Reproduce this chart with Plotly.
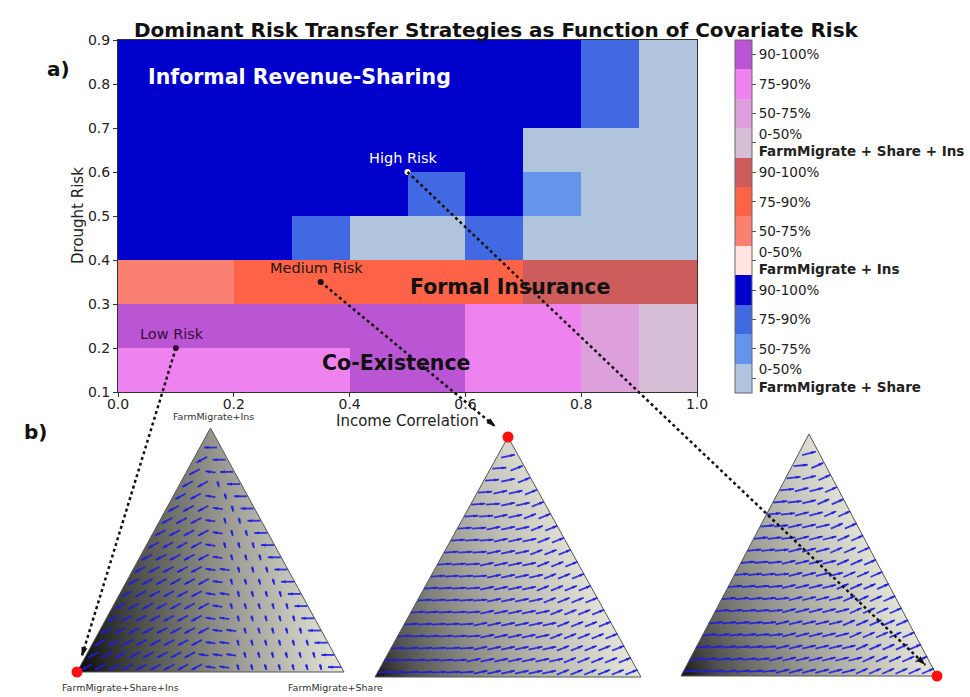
import math
import plotly.graph_objects as go

FIG_W, FIG_H = 970, 697
FONT = "DejaVu Sans"

# ---------------- panel a: dominant strategy per (correlation, drought) cell ----------------
income_correlation = [0.05, 0.15, 0.25, 0.35, 0.45, 0.55, 0.65, 0.75, 0.85, 0.95]
drought_risk = [0.15, 0.25, 0.35, 0.45, 0.55, 0.65, 0.75, 0.85]

# codes 0-3: FarmMigrate+Share, 4-7: FarmMigrate+Ins, 8-11: FarmMigrate+Share+Ins
# (within each group: 0-50%, 50-75%, 75-90%, 90-100% of runs)
dominant_code = [
    [10, 10, 10, 10, 11, 11, 10, 10, 9, 8],   # drought 0.1-0.2
    [11, 11, 11, 11, 11, 11, 10, 10, 9, 8],   # 0.2-0.3
    [5, 5, 6, 6, 6, 6, 6, 7, 7, 7],           # 0.3-0.4
    [3, 3, 3, 2, 0, 0, 2, 0, 0, 0],           # 0.4-0.5
    [3, 3, 3, 3, 3, 2, 3, 1, 0, 0],           # 0.5-0.6
    [3, 3, 3, 3, 3, 3, 3, 0, 0, 0],           # 0.6-0.7
    [3, 3, 3, 3, 3, 3, 3, 3, 2, 0],           # 0.7-0.8
    [3, 3, 3, 3, 3, 3, 3, 3, 2, 0],           # 0.8-0.9
]
category_colors = ["#b0c4de", "#6495ed", "#4169e1", "#0000cd",
                   "#ffe4e1", "#fa8072", "#ff6347", "#cd5c5c",
                   "#d8bfd8", "#dda0dd", "#ee82ee", "#ba55d3"]
share_bins = ["0-50%", "50-75%", "75-90%", "90-100%"]
strategy_groups = ["FarmMigrate + Share", "FarmMigrate + Ins", "FarmMigrate + Share + Ins"]

region_labels = ["Informal Revenue-Sharing", "Formal Insurance", "Co-Existence"]
region_x = [0.314, 0.677, 0.48]
region_y = [0.816, 0.339, 0.166]
region_colors = ["white", "#111111", "#111111"]

risk_labels = ["Low Risk", "Medium Risk", "High Risk"]
risk_corr = [0.1, 0.35, 0.5]
risk_drought = [0.2, 0.35, 0.6]
risk_colors = ["#3a0a40", "#1e1410", "white"]
risk_equilibrium = ["FarmMigrate+Share+Ins", "FarmMigrate+Ins", "FarmMigrate+Share"]

# ---------------- panel b: simplex vertices and flow directions ----------------
vertex_names = ["FarmMigrate+Share+Ins", "FarmMigrate+Share", "FarmMigrate+Ins"]  # BL, BR, top

# shading weights (toward right vertex, toward top vertex, gamma)
shade_params = [(0.97, 0.55, 0.8), (0.95, 0.85, 0.55), (0.95, 0.9, 0.6)]

# arrow direction (deg, counter-clockwise from +x) and length by horizontal position in a row
flow_u_edges = [[0, 0.47, 0.6, 1.01], [0, 0.35, 0.7, 1.01], [0, 0.35, 0.7, 1.01]]
flow_angle = [[208, 172, 285], [4, 12, 22], [6, 14, 24]]
flow_length = [[12, 10, 6], [14, 14, 13], [14, 14, 13]]
edge_angle = [180, None, None]
edge_length = [13, None, None]

# ---------------- layout geometry (pixels) ----------------
AX_L, AX_R, AX_T, AX_B = 118, 697, 40, 392
X_RANGE, Y_RANGE = (0.0, 1.0), (0.1, 0.9)
TRIANGLES = [dict(cx=210.5, base=672, top=428, half=133.5),
             dict(cx=508, base=677, top=437, half=133),
             dict(cx=809, base=676, top=434, half=128)]
N_ROWS = 20
QUIVER_BLUE = "rgba(30,30,225,0.88)"


def to_px(x, y):
    px = AX_L + (x - X_RANGE[0]) / (X_RANGE[1] - X_RANGE[0]) * (AX_R - AX_L)
    py = AX_B - (y - Y_RANGE[0]) / (Y_RANGE[1] - Y_RANGE[0]) * (AX_B - AX_T)
    return px, py


def vertices(t):
    return [(t["cx"] - t["half"], t["base"]), (t["cx"] + t["half"], t["base"]), (t["cx"], t["top"])]


def row_span(t, c):
    y = t["base"] - c * (t["base"] - t["top"])
    return t["cx"] - t["half"] * (1 - c), t["cx"] + t["half"] * (1 - c), y


def shade(params, b, c):
    wB, wC, g = params
    v = max(0.0, min(1.0, wB * b + wC * c)) ** g
    return "rgb(%d,%d,%d)" % (4 + 232 * v, 4 + 232 * v, 4 + 220 * v)


def lookup(u, edges, vals):
    for i in range(len(vals)):
        if edges[i] <= u < edges[i + 1]:
            return vals[i]
    return vals[-1]


fig = go.Figure()

# heatmap
colorscale = []
for k, col in enumerate(category_colors):
    colorscale += [[k / 12, col], [(k + 1) / 12, col]]
ticktext = []
for g in strategy_groups:
    for i, b in enumerate(share_bins):
        ticktext.append(b + ("<br><b>" + g + "</b>" if i == 0 else ""))

fig.add_trace(go.Heatmap(
    x=income_correlation, y=drought_risk, z=dominant_code,
    colorscale=colorscale, zmin=-0.5, zmax=11.5, xaxis="x", yaxis="y",
    hoverinfo="skip",
    colorbar=dict(x=735 / FIG_W, xanchor="left", y=1 - 40 / FIG_H, yanchor="top",
                  len=353 / FIG_H, lenmode="fraction", thickness=17, thicknessmode="pixels",
                  outlinewidth=1, outlinecolor="#666", xpad=0, ypad=0,
                  tickvals=list(range(12)), ticktext=ticktext, ticks="outside",
                  ticklen=4, tickcolor="#555",
                  tickfont=dict(family=FONT, size=13.5, color="#222")),
))

# risk points
fig.add_trace(go.Scatter(x=risk_corr, y=risk_drought, mode="markers", xaxis="x", yaxis="y",
                         marker=dict(size=6, color=risk_colors), hoverinfo="skip", showlegend=False))

# simplex shading, outlines and flow arrows
for p, t in enumerate(TRIANGLES):
    n_strips = 48
    for i in range(n_strips):
        c0 = max(0.0, i / n_strips - 0.004)
        c1 = (i + 1) / n_strips
        cm = (i + 0.5) / n_strips
        l0, r0, y0 = row_span(t, c0)
        l1, r1, y1 = row_span(t, c1)
        lm, rm, _ = row_span(t, cm)
        stops = []
        for s in range(9):
            f = s / 8
            b = f * (1 - cm)
            stops.append([f, shade(shade_params[p], b, cm)])
        fig.add_trace(go.Scatter(
            x=[l0, r0, r1, l1, l0], y=[y0, y0, y1, y1, y0], mode="none", fill="toself",
            fillgradient=dict(type="horizontal", colorscale=stops, start=lm, stop=rm),
            xaxis="x2", yaxis="y2", hoverinfo="skip", showlegend=False))

    vs = vertices(t)
    fig.add_trace(go.Scatter(x=[v[0] for v in vs] + [vs[0][0]], y=[v[1] for v in vs] + [vs[0][1]],
                             mode="lines", line=dict(color="#555", width=1),
                             xaxis="x2", yaxis="y2", hoverinfo="skip", showlegend=False))

    sx = 2 * t["half"] / N_ROWS
    qx, qy, hx, hy, hang = [], [], [], [], []
    for k in range(N_ROWS):
        c = (k + 0.4) / N_ROWS
        left, right, y = row_span(t, c)
        n = int((right - left) / sx)
        for j in range(n):
            x = left + (j + 0.5) * (right - left) / n
            u = (x - left) / (right - left)
            if j == n - 1 and edge_angle[p] is not None:
                ang, ln = edge_angle[p], edge_length[p]
            else:
                ang = lookup(u, flow_u_edges[p], flow_angle[p])
                ln = lookup(u, flow_u_edges[p], flow_length[p])
            dx = math.cos(math.radians(ang)) * ln
            dy = -math.sin(math.radians(ang)) * ln
            xs, ys = x - dx / 2, y - dy / 2
            xe, ye = x + dx / 2, y + dy / 2
            qx += [xs, xe, None]
            qy += [ys, ye, None]
            hx.append(xe)
            hy.append(ye)
            hang.append(90 - ang)
    fig.add_trace(go.Scatter(x=qx, y=qy, mode="lines", line=dict(color=QUIVER_BLUE, width=1.8),
                             xaxis="x2", yaxis="y2", hoverinfo="skip", showlegend=False))
    fig.add_trace(go.Scatter(x=hx, y=hy, mode="markers",
                             marker=dict(symbol="arrow", size=5, angle=hang, color=QUIVER_BLUE),
                             xaxis="x2", yaxis="y2", hoverinfo="skip", showlegend=False))

# equilibrium markers and dotted connectors
for p, t in enumerate(TRIANGLES):
    vx, vy = vertices(t)[vertex_names.index(risk_equilibrium[p])]
    sx, sy = to_px(risk_corr[p], risk_drought[p])
    fig.add_trace(go.Scatter(x=[vx], y=[vy], mode="markers", marker=dict(size=11, color="#ff1010"),
                             xaxis="x2", yaxis="y2", hoverinfo="skip", showlegend=False))
    L = math.hypot(vx - sx, vy - sy)
    ux, uy = (vx - sx) / L, (vy - sy) / L
    ex, ey = vx - ux * 16, vy - uy * 16
    fig.add_trace(go.Scatter(x=[sx, ex], y=[sy, ey], mode="lines",
                             line=dict(color="#111", width=2.5, dash="dot"),
                             xaxis="x2", yaxis="y2", hoverinfo="skip", showlegend=False))
    ang = math.degrees(math.atan2(ux, -uy))
    fig.add_trace(go.Scatter(x=[ex], y=[ey], mode="markers",
                             marker=dict(symbol="arrow", size=10, angle=ang, color="#111"),
                             xaxis="x2", yaxis="y2", hoverinfo="skip", showlegend=False))

ann = []
ann.append(dict(text="<b>Dominant Risk Transfer Strategies as Function of Covariate Risk</b>",
                x=497 / FIG_W, y=1 - 16 / FIG_H, xref="paper", yref="paper", showarrow=False,
                font=dict(family=FONT, size=20, color="#111")))
ann.append(dict(text="<b>a)</b>", x=45 / FIG_W, y=1 - 55 / FIG_H, xref="paper", yref="paper",
                showarrow=False, font=dict(family=FONT, size=20, color="#111")))
ann.append(dict(text="<b>b)</b>", x=22 / FIG_W, y=1 - 432 / FIG_H, xref="paper", yref="paper",
                showarrow=False, font=dict(family=FONT, size=20, color="#111")))
ann.append(dict(text="Income Correlation", x=0.5, y=Y_RANGE[0], xref="x", yref="y", yshift=-29,
                showarrow=False, font=dict(family=FONT, size=15, color="#222")))
ann.append(dict(text="Drought Risk", x=X_RANGE[0], y=0.5, xref="x", yref="y", xshift=-40,
                textangle=-90, showarrow=False, font=dict(family=FONT, size=15, color="#222")))
for lab, x, y, col in zip(region_labels, region_x, region_y, region_colors):
    ann.append(dict(text="<b>" + lab + "</b>", x=x, y=y, xref="x", yref="y", showarrow=False,
                    font=dict(family=FONT, size=20.5, color=col)))
for lab, x, y, col in zip(risk_labels, risk_corr, risk_drought, risk_colors):
    ann.append(dict(text=lab, x=x, y=y, xref="x", yref="y", showarrow=False, xshift=-4, yshift=14,
                    font=dict(family=FONT, size=14.5, color=col)))
vs = vertices(TRIANGLES[0])
label_offsets = [(43, 15), (-9, 15), (3, -12)]
for name, (vx, vy), (ox, oy) in zip(vertex_names, vs, label_offsets):
    ann.append(dict(text=name, x=vx + ox, y=vy + oy, xref="x2", yref="y2", showarrow=False,
                    font=dict(family=FONT, size=9.5, color="#333")))

axis_common = dict(ticks="outside", ticklen=4, tickcolor="#333", showline=True, linecolor="#333",
                   linewidth=1, mirror=True, showgrid=False, zeroline=False,
                   tickfont=dict(family=FONT, size=14, color="#222"))
fig.update_layout(
    width=FIG_W, height=FIG_H,
    margin=dict(l=0, r=0, t=0, b=0, autoexpand=False),
    paper_bgcolor="white", plot_bgcolor="rgba(0,0,0,0)",
    showlegend=False,
    xaxis=dict(domain=[AX_L / FIG_W, AX_R / FIG_W], anchor="y", range=list(X_RANGE),
               tickvals=[0, 0.2, 0.4, 0.6, 0.8, 1.0], ticklabelstandoff=-5,
               ticktext=["0.0", "0.2", "0.4", "0.6", "0.8", "1.0"], **axis_common),
    yaxis=dict(domain=[1 - AX_B / FIG_H, 1 - AX_T / FIG_H], anchor="x", range=list(Y_RANGE),
               tickvals=[0.1, 0.2, 0.3, 0.4, 0.5, 0.6, 0.7, 0.8, 0.9],
               ticktext=["0.1", "0.2", "0.3", "0.4", "0.5", "0.6", "0.7", "0.8", "0.9"],
               **axis_common),
    xaxis2=dict(domain=[0, 1], anchor="y2", range=[0, FIG_W], visible=False, fixedrange=True),
    yaxis2=dict(domain=[0, 1], anchor="x2", range=[FIG_H, 0], visible=False, fixedrange=True),
    annotations=ann,
)

fig.write_html("out.html")
